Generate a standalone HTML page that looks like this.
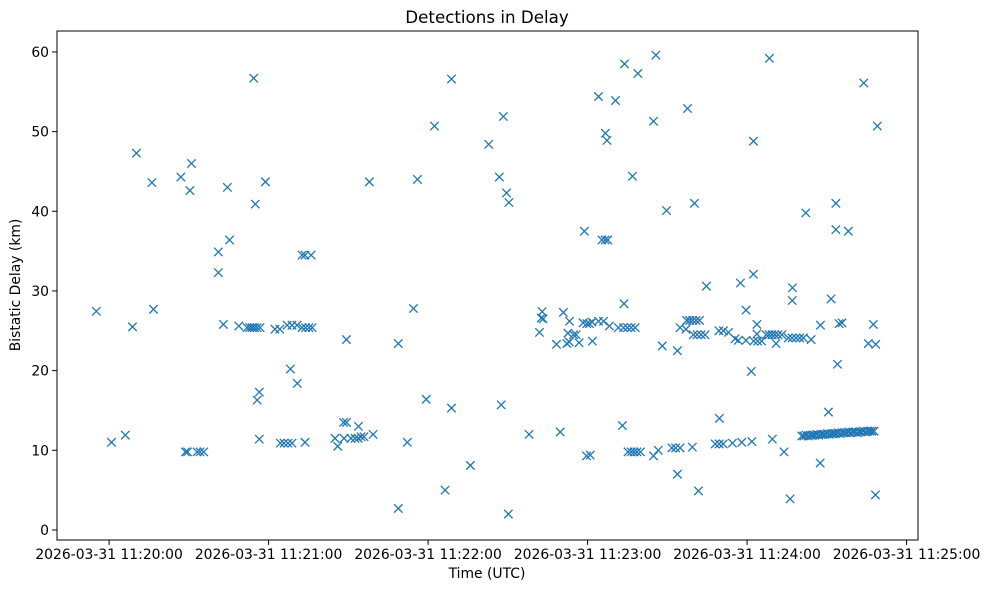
<!DOCTYPE html>
<html><head><meta charset="utf-8"><style>
body{margin:0;background:#fff;}
svg{display:block;font-family:"DejaVu Sans","Liberation Sans",sans-serif;}
</style></head><body>
<svg id="chart" width="988" height="590" xmlns="http://www.w3.org/2000/svg">
<rect width="988" height="590" fill="#fff"/>
<text x="487" y="23" text-anchor="middle" font-size="16.7" fill="#000">Detections in Delay</text>
<g id="marks"></g>
<g id="axes"></g>
<rect x="57" y="31" width="861" height="509" fill="none" stroke="#000" stroke-width="1"/>
<text x="487" y="578" text-anchor="middle" font-size="13.9">Time (UTC)</text>
<text transform="translate(20,285) rotate(-90)" text-anchor="middle" font-size="13.9">Bistatic Delay (km)</text>
</svg>
<script>
// seconds after 2026-03-31 11:20:00 UTC
const timeSec = [-4.8,0.9,6.1,8.8,10.3,16.1,16.7,27.0,28.7,29.5,31.0,30.4,33.1,34.2,35.6,41.1,41.1,43.0,44.5,45.3,48.8,
51.9,52.9,53.8,54.7,55.7,56.8,54.4,55.0,55.7,56.5,56.5,58.8,62.4,64.2,64.4,65.8,67.3,68.8,67.0,68.8,70.7,68.2,70.8,
72.6,73.9,75.2,76.4,72.6,73.7,76.0,73.7,85.0,86.0,88.2,89.3,89.3,88.4,91.0,92.5,93.8,93.7,94.8,95.9,97.9,99.3,
108.8,108.8,112.2,114.5,116.0,119.3,122.4,126.4,128.8,128.8,135.9,142.8,146.8,147.5,148.3,149.5,150.4,150.2,
158.0,161.9,162.9,162.6,163.3,168.3,169.7,170.9,173.2,172.6,172.2,173.1,174.7,175.7,176.8,178.3,179.7,180.7,181.7,181.8,
184.1,186.0,188.2,193.7,191.6,193.5,195.0,196.4,197.9,179.6,181.0,193.1,
178.8,185.4,186.6,187.6,184.1,190.5,186.7,187.3,193.9,198.9,196.9,205.7,248.4,283.9,217.6,204.8,289.0,242.4,
209.7,220.2,262.1,273.4,273.4,278.1,224.7,237.5,242.4,257.1,257.0,271.6,239.6,214.8,217.0,
217.3,218.4,219.5,220.8,222.1,219.8,221.2,222.7,224.2,208.1,213.8,229.4,231.1,233.0,235.5,236.7,239.6,243.7,243.7,
242.5,244.0,245.5,247.2,248.3,249.4,250.5,251.7,253.1,250.9,255.5,256.9,258.4,259.8,261.2,264.1,267.6,274.6,275.7,
287.5,285.6,288.4,241.6,274.0,
195.2,196.4,197.5,198.6,199.9,204.8,206.6,211.7,213.1,214.8,219.4,228.0,229.5,231.0,234.5,238.0,241.8,249.5,253.9,229.6,270.6,
260.6,261.4,262.2,263.0,263.8,264.6,265.4,266.2,267.0,267.8,268.6,269.4,270.2,271.0,271.8,272.6,273.4,274.2,275.0,
275.8,276.6,277.4,278.2,279.0,279.8,280.6,281.4,282.2,283.0,283.8,284.6,285.4,286.2,287.0,287.8,
267.5,213.8,221.7,256.2,288.3];
const delayKm = [27.45,11.0,11.9,25.5,47.3,43.6,27.7,44.3,9.8,9.8,46.0,42.6,9.8,9.8,9.8,32.3,34.9,25.8,43.0,36.4,25.6,
25.4,25.4,25.4,25.4,25.4,25.4,56.7,40.9,16.3,17.3,11.4,43.7,25.2,25.2,10.9,10.9,10.9,10.9,25.7,25.7,25.7,20.2,18.4,
25.4,25.4,25.4,25.4,34.5,34.5,34.5,11.0,11.5,10.5,13.5,13.5,23.9,11.5,11.5,11.5,13.0,11.5,11.7,11.7,43.7,12.0,
23.4,2.7,11.0,27.8,44.0,16.4,50.7,5.0,15.3,56.6,8.1,48.4,44.3,15.7,51.9,42.3,41.1,2.0,
12.0,24.8,27.4,26.6,26.5,23.3,12.3,27.3,26.2,24.7,23.4,23.6,24.5,24.5,23.5,26.0,25.9,25.9,26.1,23.7,
26.2,26.2,25.6,28.4,25.4,25.4,25.4,25.4,25.4,9.3,9.4,13.1,
37.5,36.4,36.4,36.4,54.4,53.9,49.8,48.9,58.5,57.3,44.4,59.6,59.2,56.1,52.9,51.3,50.7,48.8,
40.1,41.0,39.8,41.0,37.7,37.5,30.6,31.0,32.1,30.4,28.8,29.0,27.6,25.4,25.2,
26.3,26.3,26.3,26.3,26.3,24.5,24.5,24.5,24.5,23.1,22.5,25.0,25.0,24.8,24.0,23.8,23.8,25.8,24.6,
23.7,23.7,23.7,24.5,24.5,24.5,24.5,24.5,24.5,23.4,24.1,24.1,24.1,24.1,24.1,23.9,25.7,25.9,26.0,
25.8,23.4,23.3,19.9,20.8,
9.8,9.8,9.8,9.8,9.8,9.3,10.0,10.3,10.3,10.3,10.4,10.8,10.8,10.8,10.9,11.0,11.1,11.4,9.8,14.0,14.8,
11.8,11.8,11.9,11.8,11.9,11.9,11.9,12.0,11.9,12.0,12.0,12.0,12.1,12.0,12.1,12.1,12.1,12.2,12.1,
12.2,12.2,12.2,12.3,12.2,12.3,12.3,12.2,12.3,12.3,12.4,12.3,12.4,12.4,12.4,12.4,
8.4,7.0,4.9,3.9,4.4];
const xTickSec = [0,60,120,180,240,300];
const xTickLabels = ["2026-03-31 11:20:00","2026-03-31 11:21:00","2026-03-31 11:22:00","2026-03-31 11:23:00","2026-03-31 11:24:00","2026-03-31 11:25:00"];
const yTicks = [0,10,20,30,40,50,60];

const NS="http://www.w3.org/2000/svg";
const PX0=57,PX1=918,PY0=31,PY1=540;
const XMIN=-19.6,XMAX=304.3,YMIN=-1.26,YMAX=62.63;
function xScale(v){return PX0+(v-XMIN)/(XMAX-XMIN)*(PX1-PX0);}
function yScale(v){return PY1-(v-YMIN)/(YMAX-YMIN)*(PY1-PY0);}
function mk(tag,attrs){const e=document.createElementNS(NS,tag);for(const k in attrs)e.setAttribute(k,attrs[k]);return e;}

const marks=document.getElementById('marks');
const n=Math.min(timeSec.length,delayKm.length);
for(let i=0;i<n;i++){
  const cx=xScale(timeSec[i]),cy=yScale(delayKm[i]),r=4.2;
  const p=mk('path',{d:`M${cx-r},${cy-r}L${cx+r},${cy+r}M${cx-r},${cy+r}L${cx+r},${cy-r}`,stroke:'#1f77b4','stroke-width':'1.3',fill:'none'});
  
  
  marks.appendChild(p);
}
const axes=document.getElementById('axes');
xTickSec.forEach((s,i)=>{
  const x=xScale(s);
  const t=mk('line',{x1:x,x2:x,y1:PY1,y2:PY1+4.9,stroke:'#000','stroke-width':'1'});
  
  
  axes.appendChild(t);
  const l=mk('text',{x:x,y:PY1+19,'text-anchor':'middle','font-size':'13.9',fill:'#000'});
  l.textContent=xTickLabels[i];
  
  
  axes.appendChild(l);
});
yTicks.forEach(v=>{
  const y=yScale(v);
  const t=mk('line',{x1:PX0-4.9,x2:PX0,y1:y,y2:y,stroke:'#000','stroke-width':'1'});
  
  
  axes.appendChild(t);
  const l=mk('text',{x:PX0-8,y:y+5,'text-anchor':'end','font-size':'13.9',fill:'#000'});
  l.textContent=String(v);
  
  
  axes.appendChild(l);
});
</script>
</body></html>
